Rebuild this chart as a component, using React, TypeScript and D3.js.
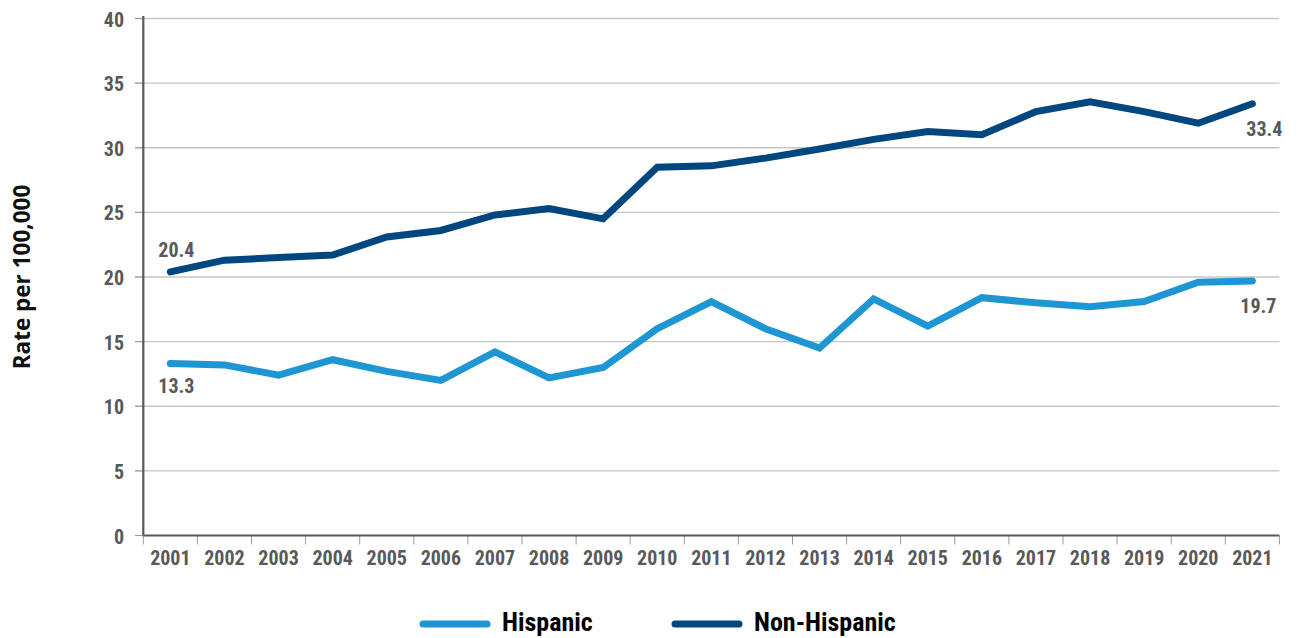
import React from "react";
import * as d3 from "d3";

const years = ["2001","2002","2003","2004","2005","2006","2007","2008","2009","2010","2011","2012","2013","2014","2015","2016","2017","2018","2019","2020","2021"];
const hispanic = [13.3,13.2,12.4,13.6,12.7,12.0,14.2,12.2,13.0,16.0,18.1,16.0,14.5,18.3,16.2,18.4,18.0,17.7,18.1,19.6,19.7];
const nonHispanic = [20.4,21.3,21.5,21.7,23.1,23.6,24.8,25.3,24.5,28.5,28.6,29.2,29.9,30.65,31.25,31.0,32.8,33.55,32.8,31.9,33.4];
const yTicks = [0,5,10,15,20,25,30,35,40];
const seriesNames = ["Hispanic","Non-Hispanic"];
const colors = ["#1e96d4","#00477f"];

const W = 1299, H = 638;
const left = 143.3, right = 1279.4, top = 18.5, bottom = 535.5;
const numFont = "'Liberation Sans Narrow', 'Arial Narrow', 'Roboto Condensed', sans-serif";

export default function App() {
  const x = d3.scaleBand<string>().domain(years).range([left, right]).padding(0);
  const y = d3.scaleLinear().domain([0, 40]).range([bottom, top]);
  const cx = (i: number) => (x(years[i]) as number) + x.bandwidth() / 2;
  const line = d3.line<number>().x((_, i) => cx(i)).y(d => y(d));
  const gray = "#595959";
  const last = years.length - 1;
  const boundaries = years.map((yr) => x(yr) as number).concat([right]);

  return (
    <svg width={W} height={H} style={{ position: "absolute", left: 0, top: 0, display: "block", background: "#fff" }}>
      {yTicks.map(t => (
        <g key={t}>
          {t > 0 && <line x1={135} x2={right} y1={y(t)} y2={y(t)} stroke="#c6c6c6" strokeWidth={1.3} />}
          <line x1={135} x2={left} y1={y(t)} y2={y(t)} stroke="#9a9a9a" strokeWidth={1} />
          <text x={124} y={y(t) + 8} textAnchor="end" fontFamily={numFont} fontWeight={700} fontSize={20} fill={gray}>{t}</text>
        </g>
      ))}
      {boundaries.map((b, i) => (
        <line key={i} x1={b} x2={b} y1={bottom} y2={bottom + 9} stroke="#9a9a9a" strokeWidth={1} />
      ))}
      <line x1={left} x2={left} y1={16} y2={bottom} stroke={gray} strokeWidth={2.2} />
      <line x1={left} x2={right} y1={bottom} y2={bottom} stroke={gray} strokeWidth={2.2} />
      {years.map((yr, i) => (
        <text key={yr} x={cx(i)} y={565} textAnchor="middle" fontFamily={numFont} fontWeight={700} fontSize={20} fill={gray}>{yr}</text>
      ))}
      <text transform={`translate(30,277) rotate(-90)`} textAnchor="middle" fontFamily="'Open Sans', sans-serif" fontWeight={700} fontSize={22.5} fill="#111">Rate per 100,000</text>

      <path d={line(hispanic) || ""} fill="none" stroke={colors[0]} strokeWidth={7} strokeLinejoin="miter" strokeLinecap="round" />
      <path d={line(nonHispanic) || ""} fill="none" stroke={colors[1]} strokeWidth={7} strokeLinejoin="miter" strokeLinecap="round" />

      <text x={cx(0) - 12} y={y(nonHispanic[0]) - 15} fontFamily={numFont} fontWeight={700} fontSize={20} fill={gray}>{nonHispanic[0].toFixed(1)}</text>
      <text x={cx(0) - 12} y={y(hispanic[0]) + 29} fontFamily={numFont} fontWeight={700} fontSize={20} fill={gray}>{hispanic[0].toFixed(1)}</text>
      <text x={cx(last) - 6} y={y(nonHispanic[last]) + 32} fontFamily={numFont} fontWeight={700} fontSize={20} fill={gray}>{nonHispanic[last].toFixed(1)}</text>
      <text x={cx(last) - 12} y={y(hispanic[last]) + 32} fontFamily={numFont} fontWeight={700} fontSize={20} fill={gray}>{hispanic[last].toFixed(1)}</text>

      {seriesNames.map((name, i) => {
        const lx = i === 0 ? 420 : 672;
        return (
          <g key={name}>
            <line x1={lx + 3} x2={lx + 67} y1={624} y2={624} stroke={colors[i]} strokeWidth={7} strokeLinecap="round" />
            <text x={lx + 82} y={631} fontFamily={numFont} fontWeight={700} fontSize={26} fill="#000">{name}</text>
          </g>
        );
      })}
    </svg>
  );
}
